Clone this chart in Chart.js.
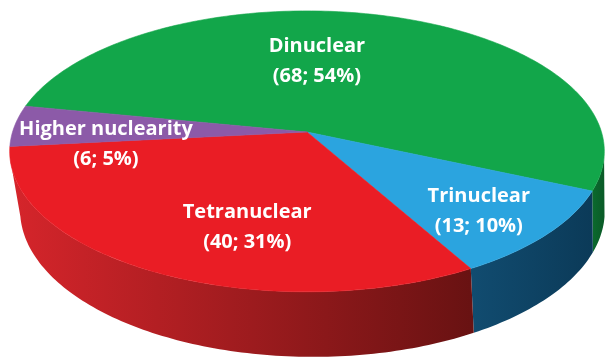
<!DOCTYPE html>
<html>
<head>
<meta charset="utf-8">
<script src="https://cdn.jsdelivr.net/npm/chart.js@4/dist/chart.umd.min.js"></script>
<style>
  html, body { margin: 0; padding: 0; background: #ffffff; }
  #wrap { width: 607px; height: 358px; }
</style>
</head>
<body>
<div id="wrap"><canvas id="pie" width="607" height="358"></canvas></div>
<script>
// Complex counts by nuclearity
const categories = ['Dinuclear', 'Trinuclear', 'Tetranuclear', 'Higher nuclearity'];
const counts = [68, 13, 40, 6];

// Face and side colours for each slice
const topColors = ['#12a64a', '#2ba4df', '#ea1d25', '#8c5aa8'];
const sideColors = [
  ['#0b6a2e', '#0a5a27'],
  ['#114c70', '#0b3a58'],
  ['#d6252b', '#681212'],
  ['#64407f', '#4a2c60']
];

// Where each label sits inside its slice: angular nudge (deg) and radius fraction
const labelPlacement = [
  { turn: -13.7, r: 0.55 },
  { turn: 2.4, r: 0.76 },
  { turn: -11.1, r: 0.66 },
  { turn: -9.8, r: 0.68 }
];

// Perspective view of the pie disc (lean slants the wall slightly to the right)
const view = { tilt: 27.9, dist: 6.41, thickness: 0.23, lean: 0.08, zoom: 14.3 };

function project(arc, ang, r, y) {
  const t = view.tilt * Math.PI / 180;
  const s = Math.sin(t), c = Math.cos(t);
  const x = r * Math.cos(ang) - y * view.lean;
  const z = -r * Math.sin(ang);
  const yc = y * c + z * s;
  const d = view.dist + z * c - y * s;
  const S = arc.outerRadius * view.zoom;
  return [arc.x + S * x / d, arc.y - S * yc / d];
}

function ringPoints(arc, a1, a2, y) {
  const pts = [];
  const n = Math.max(8, Math.ceil(Math.abs(a2 - a1) / (Math.PI / 180)));
  for (let i = 0; i <= n; i++) {
    const a = a1 + (a2 - a1) * i / n;
    pts.push(project(arc, a, 1, y));
  }
  return pts;
}

// Part of a slice's rim whose wall faces the camera (null when hidden)
function frontRange(arc) {
  const k = 1 / (view.dist * Math.cos(view.tilt * Math.PI / 180));
  const lo = Math.asin(k), hi = Math.PI - Math.asin(k);
  for (const shift of [-2 * Math.PI, 0, 2 * Math.PI]) {
    const a1 = Math.max(arc.startAngle, lo + shift);
    const a2 = Math.min(arc.endAngle, hi + shift);
    if (a2 > a1) return [a1, a2];
  }
  return null;
}

const pie3d = {
  id: 'pie3d',
  beforeDatasetsDraw(chart) {
    const ctx = chart.ctx;
    const arcs = chart.getDatasetMeta(0).data.map(el =>
      el.getProps(['x', 'y', 'startAngle', 'endAngle', 'outerRadius'], true));
    const h = -view.thickness;

    // visible side walls
    arcs.forEach((arc, i) => {
      const range = frontRange(arc);
      if (!range) return;
      const top = ringPoints(arc, range[0], range[1], 0);
      const bottom = ringPoints(arc, range[1], range[0], h);
      const all = top.concat(bottom);
      const xs = all.map(p => p[0]);
      const g = ctx.createLinearGradient(Math.min(...xs), 0, Math.max(...xs), 0);
      g.addColorStop(0, sideColors[i][0]);
      g.addColorStop(1, sideColors[i][1]);
      ctx.beginPath();
      all.forEach((p, k) => k ? ctx.lineTo(p[0], p[1]) : ctx.moveTo(p[0], p[1]));
      ctx.closePath();
      ctx.fillStyle = g;
      ctx.fill();
    });

    // top faces
    arcs.forEach((arc, i) => {
      const apex = project(arc, 0, 0, 0);
      const rim = ringPoints(arc, arc.startAngle, arc.endAngle, 0);
      ctx.beginPath();
      ctx.moveTo(apex[0], apex[1]);
      rim.forEach(p => ctx.lineTo(p[0], p[1]));
      ctx.closePath();
      ctx.fillStyle = topColors[i];
      ctx.fill();
      ctx.strokeStyle = topColors[i];
      ctx.lineWidth = 0.6;
      ctx.stroke();
    });

    // labels
    const total = counts.reduce((a, b) => a + b, 0);
    ctx.save();
    ctx.fillStyle = '#ffffff';
    ctx.textAlign = 'center';
    ctx.textBaseline = 'middle';
    ctx.font = 'bold 20px "Open Sans", Lato, sans-serif';
    arcs.forEach((arc, i) => {
      const mid = (arc.startAngle + arc.endAngle) / 2 + labelPlacement[i].turn * Math.PI / 180;
      const p = project(arc, mid, labelPlacement[i].r, 0);
      const pct = Math.round(counts[i] / total * 100);
      ctx.fillText(categories[i], p[0], p[1] - 15);
      ctx.fillText('(' + counts[i] + '; ' + pct + '%)', p[0], p[1] + 15);
    });
    ctx.restore();
    return false;
  }
};

new Chart(document.getElementById('pie'), {
  type: 'pie',
  data: {
    labels: categories,
    datasets: [{ data: counts, backgroundColor: topColors, borderWidth: 0 }]
  },
  options: {
    responsive: false,
    animation: false,
    rotation: -78.9,
    layout: { padding: { left: 7, right: 0, top: 0, bottom: 94 } },
    plugins: { legend: { display: false }, tooltip: { enabled: false } }
  },
  plugins: [pie3d]
});
</script>
</body>
</html>
